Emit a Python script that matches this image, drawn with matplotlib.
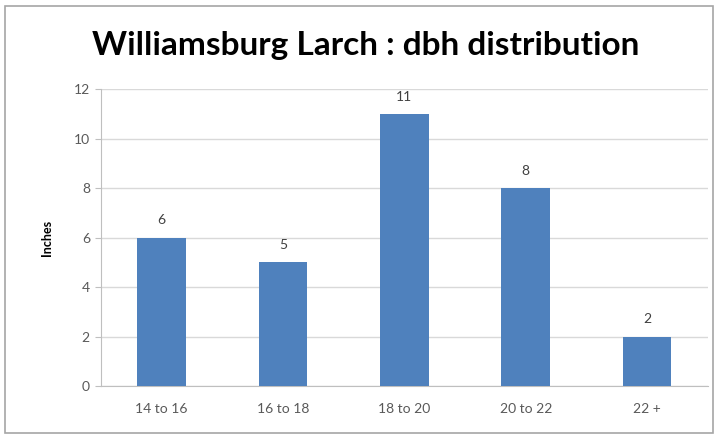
import matplotlib.pyplot as plt
from matplotlib.patches import Rectangle

# dbh classes and tree counts
categories = ['14 to 16', '16 to 18', '18 to 20', '20 to 22', '22 +']
counts = [6, 5, 11, 8, 2]

bar_color = '#4F81BD'
text_gray = '#595959'

fig = plt.figure(figsize=(7.18, 4.36), dpi=100)
ax = fig.add_axes([0.1407, 0.1147, 0.845, 0.681])

x = range(len(categories))
bars = ax.bar(x, counts, width=0.4, color=bar_color, zorder=3)

for b, v in zip(bars, counts):
    ax.annotate(str(v), (b.get_x() + b.get_width() / 2, v), xytext=(0, 8),
                textcoords='offset points', ha='center', va='bottom',
                fontsize=10, color='#404040', family='Lato')

ax.set_xlim(-0.5, len(categories) - 0.5)
ax.set_ylim(0, 12)
ax.set_yticks(range(0, 13, 2))
ax.set_xticks(list(x))
ax.set_xticklabels(categories)

ax.grid(axis='y', color='#D9D9D9', linewidth=1, zorder=0)
for s in ['top', 'right']:
    ax.spines[s].set_visible(False)
for s in ['left', 'bottom']:
    ax.spines[s].set_color('#BFBFBF')

ax.tick_params(axis='x', length=0, pad=12, labelsize=10, labelcolor=text_gray)
ax.tick_params(axis='y', length=4, color='#BFBFBF', pad=4, labelsize=10, labelcolor=text_gray)
for lab in ax.get_xticklabels() + ax.get_yticklabels():
    lab.set_family('Lato')

ax.set_ylabel('Inches', fontsize=9, fontweight='bold', family='Lato', labelpad=15)

fig.text(0.51, 0.895, 'Williamsburg Larch : dbh distribution', ha='center', va='center',
         fontsize=24, fontweight='bold', family='Lato')

# chart frame
fig.patches.append(Rectangle((0.007, 0.007), 0.986, 0.98, transform=fig.transFigure,
                             fill=False, edgecolor='#A6A6A6', linewidth=1.2))

fig.savefig('out.png', dpi=100)
